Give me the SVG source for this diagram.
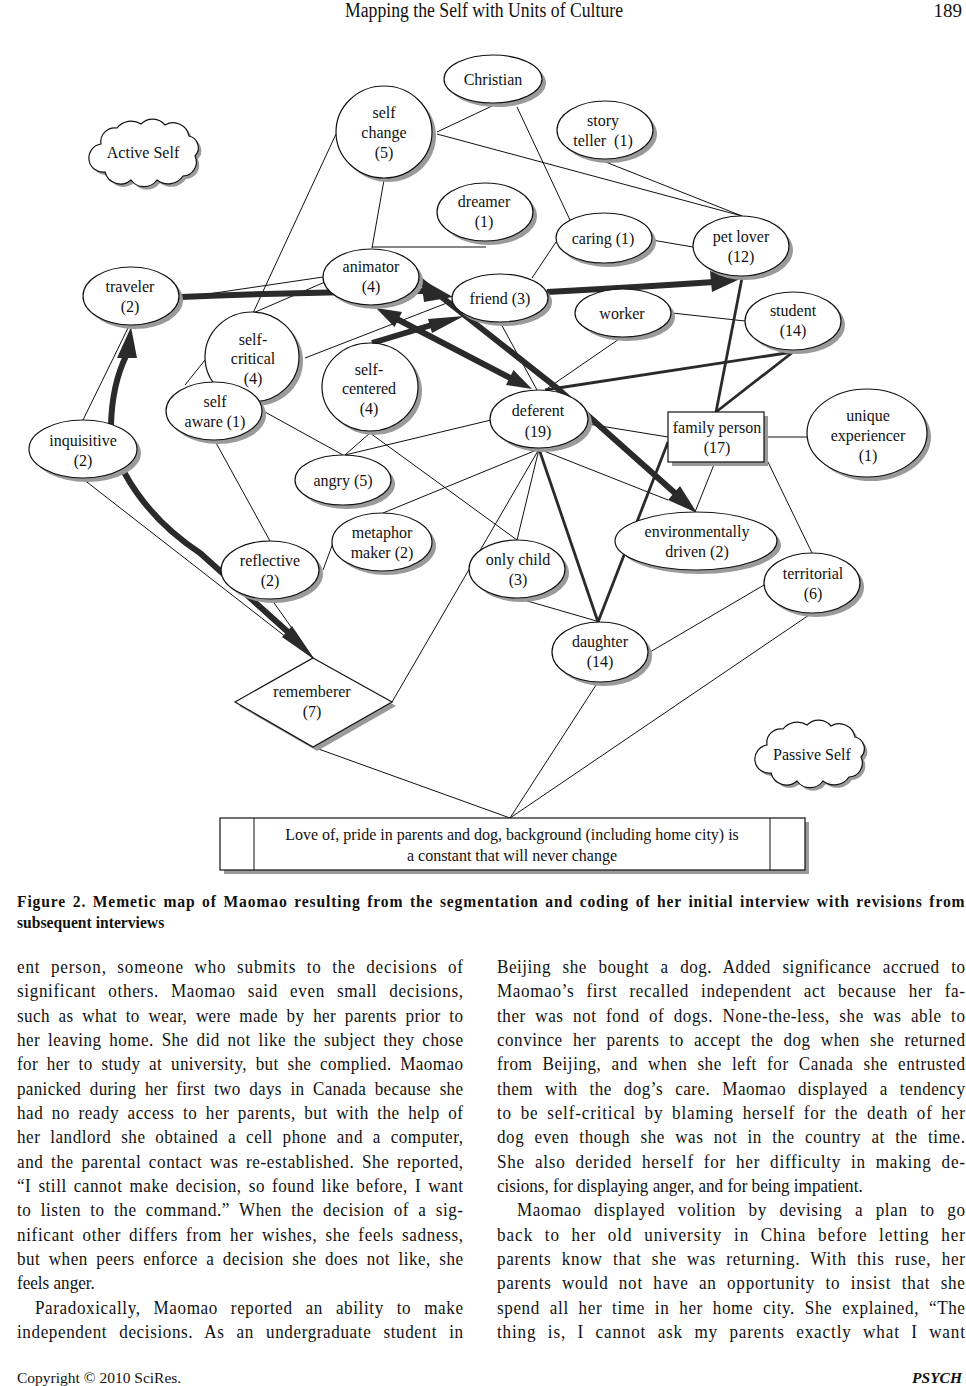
<svg xmlns="http://www.w3.org/2000/svg" width="966" height="1386" viewBox="0 0 966 1386">
<style>
text{font-family:"Liberation Serif","Times New Roman",serif;fill:#111}
.n{font-size:16px;text-anchor:middle}
.b{font-size:19px}
.cap{font-size:17px;font-weight:bold}
.nd{fill:#fff;stroke:#111;stroke-width:1.2}
.sh{fill:#9a9a9a;stroke:none}
.t{stroke:#111;stroke-width:1;fill:none}
.m{stroke:#2a2a2a;stroke-width:2.8;fill:none}
.k{stroke:#2a2a2a;stroke-width:6;fill:none}
.ah{fill:#2a2a2a;stroke:none}
</style>
<defs>
<path id="cloud" d="M -44,-8 A 14 14 0 0 1 -28,-24 A 18 18 0 0 1 -4,-28 A 16 16 0 0 1 20,-27 A 16 16 0 0 1 44,-16 A 12 12 0 0 1 50,4 A 14 14 0 0 1 38,24 A 18 18 0 0 1 12,28 A 16 16 0 0 1 -14,28 A 16 16 0 0 1 -40,20 A 12 12 0 0 1 -44,-8 Z"/>
</defs>
<rect width="966" height="1386" fill="#fff"/>
<!-- page header -->
<text x="345" y="17" font-size="20" textLength="278" lengthAdjust="spacingAndGlyphs">Mapping the Self with Units of Culture</text>
<text x="962" y="17" font-size="19" text-anchor="end">189</text>

<g id="connectors">
<line class="t" x1="437" y1="132" x2="492" y2="106"/>
<line class="t" x1="437" y1="134" x2="742" y2="216"/>
<line class="t" x1="517" y1="107" x2="570" y2="220"/>
<line class="t" x1="603" y1="161" x2="742" y2="216"/>
<line class="t" x1="384" y1="180" x2="372" y2="248"/>
<line class="t" x1="372" y1="247" x2="486" y2="247"/>
<line class="t" x1="336" y1="134" x2="253" y2="313"/>
<line class="t" x1="181" y1="298" x2="323" y2="277"/>
<line class="t" x1="253" y1="313" x2="325" y2="282"/>
<line class="t" x1="305" y1="358" x2="452" y2="301"/>
<line class="t" x1="185" y1="385" x2="205" y2="360"/>
<line class="t" x1="83" y1="420" x2="129" y2="326"/>
<line class="t" x1="265" y1="412" x2="343" y2="455"/>
<line class="t" x1="370" y1="433" x2="345" y2="455"/>
<line class="t" x1="345" y1="455" x2="491" y2="420"/>
<line class="t" x1="370" y1="433" x2="517" y2="540"/>
<line class="t" x1="215" y1="441" x2="270" y2="541"/>
<line class="t" x1="83" y1="479" x2="313" y2="658"/>
<line class="t" x1="272" y1="600" x2="313" y2="658"/>
<line class="t" x1="323" y1="570" x2="333" y2="543"/>
<line class="t" x1="383" y1="513" x2="539" y2="449"/>
<line class="t" x1="539" y1="449" x2="392" y2="702"/>
<line class="t" x1="539" y1="449" x2="517" y2="540"/>
<line class="t" x1="539" y1="449" x2="668" y2="500"/>
<line class="t" x1="588" y1="424" x2="668" y2="437"/>
<line class="t" x1="517" y1="598" x2="600" y2="622"/>
<line class="t" x1="715" y1="462" x2="695" y2="512"/>
<line class="t" x1="768" y1="462" x2="812" y2="553"/>
<line class="t" x1="764" y1="437" x2="807" y2="437"/>
<line class="t" x1="672" y1="313" x2="745" y2="321"/>
<line class="t" x1="622" y1="337" x2="545" y2="390"/>
<line class="t" x1="556" y1="242" x2="532" y2="278"/>
<line class="t" x1="652" y1="240" x2="693" y2="247"/>
<line class="t" x1="500" y1="322" x2="537" y2="390"/>
<line class="t" x1="598" y1="682" x2="510" y2="818"/>
<line class="t" x1="313" y1="747" x2="510" y2="818"/>
<line class="t" x1="812" y1="613" x2="510" y2="818"/>
<line class="t" x1="650" y1="652" x2="764" y2="585"/>
<!-- medium lines -->
<line class="m" x1="742" y1="278" x2="716" y2="412"/>
<line class="m" x1="793" y1="352" x2="716" y2="412"/>
<line class="m" x1="793" y1="352" x2="545" y2="390"/>
<line class="m" x1="668" y1="442" x2="598" y2="622"/>
<line class="m" x1="539" y1="449" x2="598" y2="622"/>
<!-- thick arrows -->
<path class="k" d="M 181,297 Q 300,292 428,291"/>
<polygon class="ah" points="453,297 421,279 424,302"/>
<path class="k" d="M 420,280 L 557,388 L 676,494"/>
<polygon class="ah" points="697,513 668,500 680,486"/>
<path class="k" stroke-width="5" d="M 395,318 L 512,379"/>
<polygon class="ah" points="532,389 506,385 513.5,370"/>
<polygon class="ah" points="376,308 394.5,327 402,312"/>
<path class="k" stroke-width="5" d="M 372,343 L 435,324"/>
<polygon class="ah" points="464,316 432,333 428,319"/>
<path class="k" stroke-width="5.5" d="M 547,292 Q 640,287 714,282"/>
<polygon class="ah" points="740,279 710,271 712,292"/>
<path class="k" d="M 111,425 Q 112,385 126,356"/>
<polygon class="ah" points="131,327 117,358 137,358"/>
<path class="k" stroke-width="5.5" d="M 124,472 Q 150,520 200,553 L 288,632"/>
<polygon class="ah" points="315,660 282,637 292,626"/>
</g>

<!-- nodes -->
<g id="active-self"><use href="#cloud" transform="translate(148,155)" class="sh"/><use href="#cloud" transform="translate(145,152)" class="nd"/><text class="n" x="143" y="158">Active Self</text></g>
<g id="christian"><ellipse class="sh" cx="497" cy="83" rx="49" ry="24"/><ellipse class="nd" cx="493" cy="79" rx="49" ry="24"/><text class="n" x="493" y="85">Christian</text></g>
<g id="self-change"><ellipse class="sh" cx="388" cy="136" rx="48" ry="46"/><ellipse class="nd" cx="384" cy="132" rx="48" ry="46"/><text class="n" x="384" y="118">self</text><text class="n" x="384" y="138">change</text><text class="n" x="384" y="158">(5)</text></g>
<g id="story-teller"><ellipse class="sh" cx="609" cy="134" rx="48" ry="29"/><ellipse class="nd" cx="605" cy="130" rx="48" ry="29"/><text class="n" x="603" y="126">story</text><text class="n" x="603" y="146" xml:space="preserve">teller  (1)</text></g>
<g id="dreamer"><ellipse class="sh" cx="489" cy="216" rx="48" ry="29"/><ellipse class="nd" cx="485" cy="212" rx="48" ry="29"/><text class="n" x="484" y="207">dreamer</text><text class="n" x="484" y="227">(1)</text></g>
<g id="caring"><ellipse class="sh" cx="608" cy="242" rx="48" ry="25"/><ellipse class="nd" cx="604" cy="238" rx="48" ry="25"/><text class="n" x="603" y="244">caring (1)</text></g>
<g id="pet-lover"><ellipse class="sh" cx="745" cy="250" rx="48" ry="30"/><ellipse class="nd" cx="741" cy="246" rx="48" ry="30"/><text class="n" x="741" y="242">pet lover</text><text class="n" x="741" y="262">(12)</text></g>
<g id="traveler"><ellipse class="sh" cx="135" cy="300" rx="48" ry="29"/><ellipse class="nd" cx="131" cy="296" rx="48" ry="29"/><text class="n" x="130" y="292">traveler</text><text class="n" x="130" y="312">(2)</text></g>
<g id="animator"><ellipse class="sh" cx="375" cy="281" rx="48" ry="28"/><ellipse class="nd" cx="371" cy="277" rx="48" ry="28"/><text class="n" x="371" y="272">animator</text><text class="n" x="371" y="292">(4)</text></g>
<g id="friend"><ellipse class="sh" cx="504" cy="302" rx="48" ry="24"/><ellipse class="nd" cx="500" cy="298" rx="48" ry="24"/><text class="n" x="500" y="304">friend (3)</text></g>
<g id="worker"><ellipse class="sh" cx="627" cy="317" rx="48" ry="24"/><ellipse class="nd" cx="623" cy="313" rx="48" ry="24"/><text class="n" x="622" y="319">worker</text></g>
<g id="student"><ellipse class="sh" cx="797" cy="325" rx="48" ry="29"/><ellipse class="nd" cx="793" cy="321" rx="48" ry="29"/><text class="n" x="793" y="316">student</text><text class="n" x="793" y="336">(14)</text></g>
<g id="self-critical"><ellipse class="sh" cx="256" cy="361" rx="47" ry="45"/><ellipse class="nd" cx="252" cy="357" rx="47" ry="45"/><text class="n" x="253" y="345">self-</text><text class="n" x="253" y="364">critical</text><text class="n" x="253" y="384">(4)</text></g>
<g id="self-aware"><ellipse class="sh" cx="218" cy="415" rx="48" ry="29"/><ellipse class="nd" cx="214" cy="411" rx="48" ry="29"/><text class="n" x="215" y="407">self</text><text class="n" x="215" y="427">aware (1)</text></g>
<g id="self-centered"><ellipse class="sh" cx="374" cy="391" rx="48" ry="44"/><ellipse class="nd" cx="370" cy="387" rx="48" ry="44"/><text class="n" x="369" y="375">self-</text><text class="n" x="369" y="394">centered</text><text class="n" x="369" y="414">(4)</text></g>
<g id="inquisitive"><ellipse class="sh" cx="87" cy="453" rx="54" ry="29"/><ellipse class="nd" cx="83" cy="449" rx="54" ry="29"/><text class="n" x="83" y="446">inquisitive</text><text class="n" x="83" y="466">(2)</text></g>
<g id="angry"><ellipse class="sh" cx="347" cy="484" rx="48" ry="25"/><ellipse class="nd" cx="343" cy="480" rx="48" ry="25"/><text class="n" x="343" y="486">angry (5)</text></g>
<g id="deferent"><ellipse class="sh" cx="543" cy="423" rx="49" ry="29"/><ellipse class="nd" cx="539" cy="419" rx="49" ry="29"/><text class="n" x="538" y="416">deferent</text><text class="n" x="538" y="437">(19)</text></g>
<g id="family-person"><rect class="sh" x="672" y="416" width="96" height="50"/><rect class="nd" x="668" y="412" width="96" height="50"/><text class="n" x="717" y="433">family person</text><text class="n" x="717" y="453">(17)</text></g>
<g id="unique-experiencer"><ellipse class="sh" cx="871" cy="437" rx="60" ry="44"/><ellipse class="nd" cx="867" cy="433" rx="60" ry="44"/><text class="n" x="868" y="421">unique</text><text class="n" x="868" y="441">experiencer</text><text class="n" x="868" y="461">(1)</text></g>
<g id="metaphor-maker"><ellipse class="sh" cx="386" cy="546" rx="50" ry="29"/><ellipse class="nd" cx="382" cy="542" rx="50" ry="29"/><text class="n" x="382" y="538">metaphor</text><text class="n" x="382" y="558">maker (2)</text></g>
<g id="reflective"><ellipse class="sh" cx="274" cy="574" rx="49" ry="29"/><ellipse class="nd" cx="270" cy="570" rx="49" ry="29"/><text class="n" x="270" y="566">reflective</text><text class="n" x="270" y="586">(2)</text></g>
<g id="only-child"><ellipse class="sh" cx="521" cy="573" rx="48" ry="29"/><ellipse class="nd" cx="517" cy="569" rx="48" ry="29"/><text class="n" x="518" y="565">only child</text><text class="n" x="518" y="585">(3)</text></g>
<g id="environmentally-driven"><ellipse class="sh" cx="700" cy="545" rx="81" ry="29"/><ellipse class="nd" cx="696" cy="541" rx="81" ry="29"/><text class="n" x="697" y="537">environmentally</text><text class="n" x="697" y="557">driven (2)</text></g>
<g id="territorial"><ellipse class="sh" cx="816" cy="587" rx="48" ry="30"/><ellipse class="nd" cx="812" cy="583" rx="48" ry="30"/><text class="n" x="813" y="579">territorial</text><text class="n" x="813" y="599">(6)</text></g>
<g id="daughter"><ellipse class="sh" cx="604" cy="656" rx="48" ry="30"/><ellipse class="nd" cx="600" cy="652" rx="48" ry="30"/><text class="n" x="600" y="647">daughter</text><text class="n" x="600" y="667">(14)</text></g>
<g id="rememberer"><polygon class="sh" points="317,662 396,706 317,751 239,706"/><polygon class="nd" points="313,658 392,702 313,747 235,702"/><text class="n" x="312" y="697">rememberer</text><text class="n" x="312" y="717">(7)</text></g>
<g id="passive-self"><use href="#cloud" transform="translate(814,756)" class="sh"/><use href="#cloud" transform="translate(811,753)" class="nd"/><text class="n" x="812" y="760">Passive Self</text></g>
<g id="constant-box"><rect class="sh" x="224" y="822" width="585" height="52"/><rect class="nd" x="220" y="818" width="585" height="52"/><line class="t" x1="254" y1="818" x2="254" y2="870"/><line class="t" x1="770" y1="818" x2="770" y2="870"/><text class="n" x="512" y="840">Love of, pride in parents and dog, background (including home city) is</text><text class="n" x="512" y="861">a constant that will never change</text></g>

<!-- caption -->
<g transform="scale(0.92,1)">
<text class="cap" x="18.5" y="907" word-spacing="2" textLength="1030" lengthAdjust="spacing">Figure 2. Memetic map of Maomao resulting from the segmentation and coding of her initial interview with revisions from</text>
<text class="cap" x="18.5" y="928">subsequent interviews</text>
</g>

<!-- left column -->
<g transform="scale(0.9,1)">
<text class="b" x="18.9" y="973" word-spacing="6" textLength="495.6" lengthAdjust="spacing">ent person, someone who submits to the decisions of</text>
<text class="b" x="18.9" y="997" word-spacing="8" textLength="495.6" lengthAdjust="spacing">significant others. Maomao said even small decisions,</text>
<text class="b" x="18.9" y="1022" word-spacing="4.5" textLength="495.6" lengthAdjust="spacing">such as what to wear, were made by her parents prior to</text>
<text class="b" x="18.9" y="1046" word-spacing="3.5" textLength="495.6" lengthAdjust="spacing">her leaving home. She did not like the subject they chose</text>
<text class="b" x="18.9" y="1070" word-spacing="4.5" textLength="495.6" lengthAdjust="spacing">for her to study at university, but she complied. Maomao</text>
<text class="b" x="18.9" y="1095" word-spacing="4.5" textLength="495.6" lengthAdjust="spacing">panicked during her first two days in Canada because she</text>
<text class="b" x="18.9" y="1119" word-spacing="4" textLength="495.6" lengthAdjust="spacing">had no ready access to her parents, but with the help of</text>
<text class="b" x="18.9" y="1143" word-spacing="5.5" textLength="495.6" lengthAdjust="spacing">her landlord she obtained a cell phone and a computer,</text>
<text class="b" x="18.9" y="1168" word-spacing="3" textLength="495.6" lengthAdjust="spacing">and the parental contact was re-established. She reported,</text>
<text class="b" x="18.9" y="1192" word-spacing="2.5" textLength="495.6" lengthAdjust="spacing">“I still cannot make decision, so found like before, I want</text>
<text class="b" x="18.9" y="1216" word-spacing="5" textLength="495.6" lengthAdjust="spacing">to listen to the command.” When the decision of a sig-</text>
<text class="b" x="18.9" y="1241" word-spacing="3.5" textLength="495.6" lengthAdjust="spacing">nificant other differs from her wishes, she feels sadness,</text>
<text class="b" x="18.9" y="1265" word-spacing="4" textLength="495.6" lengthAdjust="spacing">but when peers enforce a decision she does not like, she</text>
<text class="b" x="18.9" y="1289">feels anger.</text>
<text class="b" x="38.9" y="1314" word-spacing="9" textLength="475.6" lengthAdjust="spacing">Paradoxically, Maomao reported an ability to make</text>
<text class="b" x="18.9" y="1338" word-spacing="8" textLength="495.6" lengthAdjust="spacing">independent decisions. As an undergraduate student in</text>
</g>
<!-- right column -->
<g transform="scale(0.9,1)">
<text class="b" x="552.2" y="973" word-spacing="7.5" textLength="520" lengthAdjust="spacing">Beijing she bought a dog. Added significance accrued to</text>
<text class="b" x="552.2" y="997" word-spacing="8" textLength="520" lengthAdjust="spacing">Maomao’s first recalled independent act because her fa-</text>
<text class="b" x="552.2" y="1022" word-spacing="5" textLength="520" lengthAdjust="spacing">ther was not fond of dogs. None-the-less, she was able to</text>
<text class="b" x="552.2" y="1046" word-spacing="6" textLength="520" lengthAdjust="spacing">convince her parents to accept the dog when she returned</text>
<text class="b" x="552.2" y="1070" word-spacing="6" textLength="520" lengthAdjust="spacing">from Beijing, and when she left for Canada she entrusted</text>
<text class="b" x="552.2" y="1095" word-spacing="8" textLength="520" lengthAdjust="spacing">them with the dog’s care. Maomao displayed a tendency</text>
<text class="b" x="552.2" y="1119" word-spacing="4" textLength="520" lengthAdjust="spacing">to be self-critical by blaming herself for the death of her</text>
<text class="b" x="552.2" y="1143" word-spacing="6" textLength="520" lengthAdjust="spacing">dog even though she was not in the country at the time.</text>
<text class="b" x="552.2" y="1168" word-spacing="5.5" textLength="520" lengthAdjust="spacing">She also derided herself for her difficulty in making de-</text>
<text class="b" x="552.2" y="1192">cisions, for displaying anger, and for being impatient.</text>
<text class="b" x="574.4" y="1216" word-spacing="8.5" textLength="497.8" lengthAdjust="spacing">Maomao displayed volition by devising a plan to go</text>
<text class="b" x="552.2" y="1241" word-spacing="7" textLength="520" lengthAdjust="spacing">back to her old university in China before letting her</text>
<text class="b" x="552.2" y="1265" word-spacing="6" textLength="520" lengthAdjust="spacing">parents know that she was returning. With this ruse, her</text>
<text class="b" x="552.2" y="1289" word-spacing="6" textLength="520" lengthAdjust="spacing">parents would not have an opportunity to insist that she</text>
<text class="b" x="552.2" y="1314" word-spacing="5.5" textLength="520" lengthAdjust="spacing">spend all her time in her home city. She explained, “The</text>
<text class="b" x="552.2" y="1338" word-spacing="7" textLength="520" lengthAdjust="spacing">thing is, I cannot ask my parents exactly what I want</text>
</g>
<!-- footer -->
<text x="17" y="1383" font-size="15.5">Copyright © 2010 SciRes.</text>
<text x="962" y="1383" font-size="15.5" font-weight="bold" font-style="italic" text-anchor="end">PSYCH</text>
</svg>
